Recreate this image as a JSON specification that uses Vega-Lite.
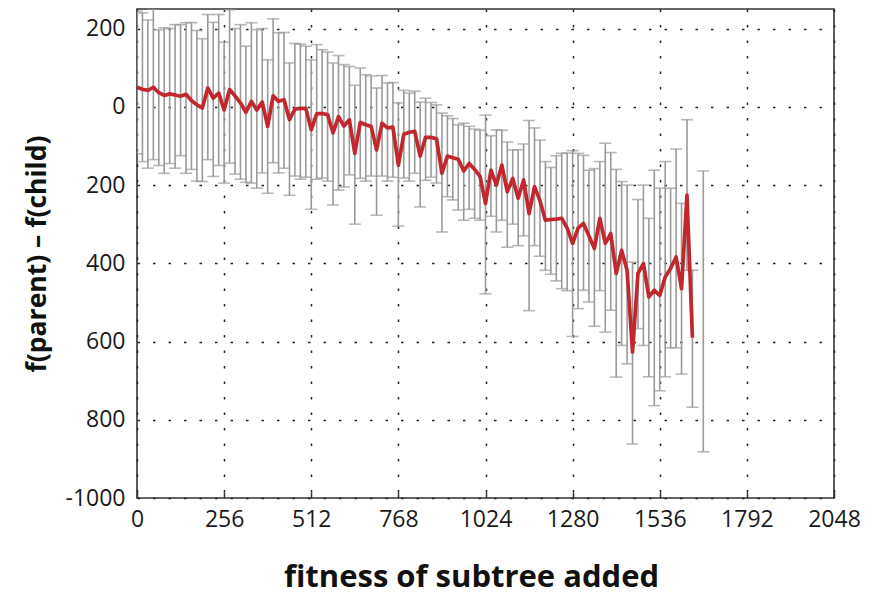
{
  "$schema": "https://vega.github.io/schema/vega-lite/v6.json",
  "width": 697,
  "height": 489,
  "autosize": {"type": "none"},
  "padding": {"left": 137, "top": 9, "right": 41, "bottom": 102},
  "background": "white",
  "config": {
    "view": {"stroke": "#333333", "strokeWidth": 1.6},
    "axis": {
      "labelFont": "Open Sans",
      "labelFontSize": 23,
      "labelColor": "#1a1a1a",
      "titleFont": "Open Sans",
      "titleFontWeight": "bold",
      "titleColor": "#111111",
      "grid": true,
      "gridColor": "#222222",
      "gridDash": [2.5, 13],
      "gridWidth": 1.5,
      "domain": false,
      "tickColor": "#333333"
    }
  },
  "data": {
    "values": [
      {"x": 0, "mean": 50, "lo": -120, "hi": 244},
      {"x": 16, "mean": 45, "lo": -140, "hi": 240},
      {"x": 32, "mean": 42, "lo": -157, "hi": 222},
      {"x": 48, "mean": 50, "lo": -135, "hi": 250},
      {"x": 64, "mean": 36, "lo": -150, "hi": 197},
      {"x": 80, "mean": 29, "lo": -170, "hi": 202},
      {"x": 96, "mean": 33, "lo": -145, "hi": 200},
      {"x": 112, "mean": 30, "lo": -157, "hi": 210},
      {"x": 128, "mean": 27, "lo": -125, "hi": 210},
      {"x": 144, "mean": 32, "lo": -170, "hi": 215},
      {"x": 160, "mean": 16, "lo": -160, "hi": 215},
      {"x": 176, "mean": 5, "lo": -190, "hi": 195},
      {"x": 192, "mean": -3, "lo": -191, "hi": 174},
      {"x": 208, "mean": 48, "lo": -135, "hi": 236},
      {"x": 224, "mean": 22, "lo": -178, "hi": 216},
      {"x": 240, "mean": 35, "lo": -150, "hi": 236},
      {"x": 256, "mean": -8, "lo": -195, "hi": 165},
      {"x": 272, "mean": 44, "lo": -144, "hi": 248},
      {"x": 288, "mean": 28, "lo": -172, "hi": 200},
      {"x": 304, "mean": 10, "lo": -185, "hi": 210},
      {"x": 320, "mean": -14, "lo": -193, "hi": 155},
      {"x": 336, "mean": 14, "lo": -195, "hi": 215},
      {"x": 352, "mean": -8, "lo": -208, "hi": 197},
      {"x": 368, "mean": 12, "lo": -169, "hi": 200},
      {"x": 384, "mean": -50, "lo": -221, "hi": 120},
      {"x": 400, "mean": 28, "lo": -143, "hi": 225},
      {"x": 416, "mean": 14, "lo": -169, "hi": 189},
      {"x": 432, "mean": 18, "lo": -157, "hi": 190},
      {"x": 448, "mean": -33, "lo": -226, "hi": 112},
      {"x": 464, "mean": -6, "lo": -177, "hi": 162},
      {"x": 480, "mean": -4, "lo": -185, "hi": 160},
      {"x": 496, "mean": -4, "lo": -180, "hi": 155},
      {"x": 512, "mean": -59, "lo": -262, "hi": 120},
      {"x": 528, "mean": -18, "lo": -185, "hi": 159},
      {"x": 544, "mean": -17, "lo": -182, "hi": 146},
      {"x": 560, "mean": -20, "lo": -190, "hi": 140},
      {"x": 576, "mean": -67, "lo": -251, "hi": 112},
      {"x": 592, "mean": -25, "lo": -213, "hi": 131},
      {"x": 608, "mean": -49, "lo": -205, "hi": 108},
      {"x": 624, "mean": -33, "lo": -174, "hi": 103},
      {"x": 640, "mean": -119, "lo": -300, "hi": 55},
      {"x": 656, "mean": -40, "lo": -183, "hi": 99},
      {"x": 672, "mean": -46, "lo": -190, "hi": 82},
      {"x": 688, "mean": -50, "lo": -177, "hi": 79},
      {"x": 704, "mean": -110, "lo": -277, "hi": 48},
      {"x": 720, "mean": -42, "lo": -177, "hi": 80},
      {"x": 736, "mean": -54, "lo": -190, "hi": 61},
      {"x": 752, "mean": -52, "lo": -180, "hi": 62},
      {"x": 768, "mean": -149, "lo": -305, "hi": 10},
      {"x": 784, "mean": -70, "lo": -182, "hi": 42},
      {"x": 800, "mean": -65, "lo": -190, "hi": 35},
      {"x": 816, "mean": -63, "lo": -170, "hi": 40},
      {"x": 832, "mean": -126, "lo": -256, "hi": 12},
      {"x": 848, "mean": -78, "lo": -188, "hi": 22},
      {"x": 864, "mean": -78, "lo": -180, "hi": 11},
      {"x": 880, "mean": -82, "lo": -195, "hi": 5},
      {"x": 896, "mean": -170, "lo": -320, "hi": -16},
      {"x": 912, "mean": -126, "lo": -230, "hi": -23},
      {"x": 928, "mean": -130, "lo": -238, "hi": -30},
      {"x": 944, "mean": -134, "lo": -264, "hi": -46},
      {"x": 960, "mean": -164, "lo": -290, "hi": -42},
      {"x": 976, "mean": -145, "lo": -262, "hi": -50},
      {"x": 992, "mean": -160, "lo": -285, "hi": -57},
      {"x": 1008, "mean": -178, "lo": -290, "hi": -60},
      {"x": 1024, "mean": -247, "lo": -478, "hi": -21},
      {"x": 1040, "mean": -162, "lo": -280, "hi": -74},
      {"x": 1056, "mean": -200, "lo": -320, "hi": -59},
      {"x": 1072, "mean": -149, "lo": -290, "hi": -60},
      {"x": 1088, "mean": -217, "lo": -359, "hi": -90},
      {"x": 1104, "mean": -183, "lo": -300, "hi": -110},
      {"x": 1120, "mean": -234, "lo": -355, "hi": -110},
      {"x": 1136, "mean": -187, "lo": -330, "hi": -95},
      {"x": 1152, "mean": -273, "lo": -521, "hi": -35},
      {"x": 1168, "mean": -204, "lo": -355, "hi": -54},
      {"x": 1184, "mean": -240, "lo": -382, "hi": -85},
      {"x": 1200, "mean": -290, "lo": -418, "hi": -140},
      {"x": 1216, "mean": -288, "lo": -428, "hi": -155},
      {"x": 1232, "mean": -287, "lo": -445, "hi": -125},
      {"x": 1248, "mean": -285, "lo": -465, "hi": -119},
      {"x": 1264, "mean": -310, "lo": -470, "hi": -118},
      {"x": 1280, "mean": -349, "lo": -587, "hi": -112},
      {"x": 1296, "mean": -310, "lo": -516, "hi": -119},
      {"x": 1312, "mean": -298, "lo": -469, "hi": -124},
      {"x": 1328, "mean": -330, "lo": -499, "hi": -162},
      {"x": 1344, "mean": -362, "lo": -561, "hi": -158},
      {"x": 1360, "mean": -285, "lo": -470, "hi": -140},
      {"x": 1376, "mean": -349, "lo": -576, "hi": -93},
      {"x": 1392, "mean": -324, "lo": -520, "hi": -117},
      {"x": 1408, "mean": -426, "lo": -691, "hi": -160},
      {"x": 1424, "mean": -367, "lo": -610, "hi": -191},
      {"x": 1440, "mean": -418, "lo": -657, "hi": -200},
      {"x": 1456, "mean": -627, "lo": -862, "hi": -397},
      {"x": 1472, "mean": -426, "lo": -567, "hi": -237},
      {"x": 1488, "mean": -401, "lo": -610, "hi": -200},
      {"x": 1504, "mean": -486, "lo": -690, "hi": -285},
      {"x": 1520, "mean": -469, "lo": -764, "hi": -162},
      {"x": 1536, "mean": -482, "lo": -726, "hi": -208},
      {"x": 1552, "mean": -435, "lo": -690, "hi": -140},
      {"x": 1568, "mean": -413, "lo": -616, "hi": -208},
      {"x": 1584, "mean": -384, "lo": -616, "hi": -108},
      {"x": 1600, "mean": -465, "lo": -683, "hi": -247},
      {"x": 1616, "mean": -226, "lo": -418, "hi": -33},
      {"x": 1632, "mean": -590, "lo": -768, "hi": -418},
      {"x": 1664, "mean": null, "lo": -882, "hi": -164}
    ]
  },
  "layer": [
    {
      "mark": {"type": "rule", "color": "#9a9a9a", "strokeWidth": 1.6, "clip": true},
      "encoding": {
        "x": {
          "field": "x", "type": "quantitative",
          "scale": {"domain": [0, 2048], "nice": false, "zero": false},
          "axis": {
            "values": [0, 256, 512, 768, 1024, 1280, 1536, 1792, 2048],
            "format": "d",
            "title": "fitness of subtree added",
            "titleFontSize": 31,
            "titleY": 64,
            "titleX": 334,
            "titleAlign": "center",
            "titleBaseline": "top",
            "tickSize": -6,
            "tickWidth": 1.5,
            "labelPadding": 16,
            "labelFlush": false
          }
        },
        "y": {
          "field": "lo", "type": "quantitative",
          "scale": {"domain": [-1000, 250], "nice": false, "zero": false},
          "axis": {
            "values": [-1000, -800, -600, -400, -200, 0, 200],
            "labelExpr": "datum.value == -1000 ? '-1000' : toString(abs(datum.value))",
            "title": "f(parent) – f(child)",
            "titleFontSize": 26.5,
            "titleX": -86,
            "tickSize": 0,
            "labelPadding": 12,
            "labelFlush": false
          }
        },
        "y2": {"field": "hi"}
      }
    },
    {
      "mark": {"type": "tick", "orient": "horizontal", "size": 12, "thickness": 1.6, "color": "#9a9a9a", "clip": true},
      "encoding": {
        "x": {"field": "x", "type": "quantitative"},
        "y": {"field": "hi", "type": "quantitative"}
      }
    },
    {
      "mark": {"type": "tick", "orient": "horizontal", "size": 12, "thickness": 1.6, "color": "#9a9a9a", "clip": true},
      "encoding": {
        "x": {"field": "x", "type": "quantitative"},
        "y": {"field": "lo", "type": "quantitative"}
      }
    },
    {
      "transform": [{"filter": "datum.mean != null"}],
      "mark": {"type": "line", "color": "#c1272d", "strokeWidth": 3.7, "clip": true, "strokeJoin": "round"},
      "encoding": {
        "x": {"field": "x", "type": "quantitative"},
        "y": {"field": "mean", "type": "quantitative"}
      }
    }
  ]
}
